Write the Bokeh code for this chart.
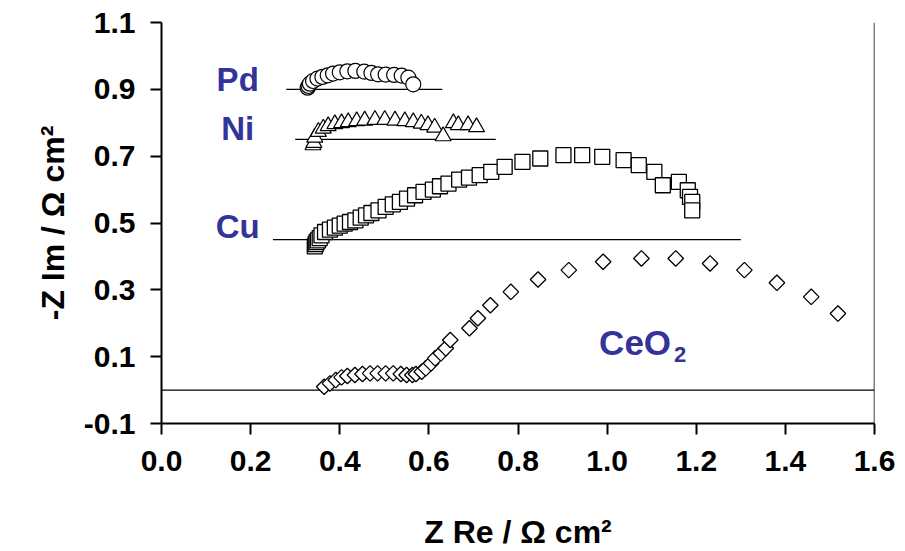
import numpy as np
from bokeh.plotting import figure
from bokeh.models import Range1d, FixedTicker, NumeralTickFormatter, Span
from bokeh.embed import file_html
from bokeh.resources import INLINE
from bokeh.core.properties import value

# ---------------- data ----------------
pd_re = [0.328, 0.330, 0.333, 0.340, 0.350, 0.361, 0.373, 0.385, 0.400, 0.417,
         0.435, 0.455, 0.471, 0.486, 0.503, 0.522, 0.539, 0.554, 0.565]
pd_im = [0.905, 0.910, 0.917, 0.925, 0.932, 0.937, 0.942, 0.947, 0.951, 0.954,
         0.955, 0.953, 0.949, 0.945, 0.944, 0.943, 0.941, 0.935, 0.915]

ni_re = [0.340, 0.342, 0.344, 0.352, 0.363, 0.374, 0.389, 0.404, 0.419, 0.438,
         0.456, 0.479, 0.501, 0.524, 0.546, 0.565, 0.583, 0.598, 0.613, 0.632,
         0.655, 0.666, 0.688, 0.707]
ni_im = [0.733, 0.740, 0.756, 0.773, 0.783, 0.790, 0.796, 0.799, 0.802, 0.805,
         0.807, 0.809, 0.809, 0.807, 0.805, 0.802, 0.798, 0.793, 0.786, 0.760,
         0.799, 0.793, 0.793, 0.787]

cu_re = [0.344, 0.346, 0.348, 0.351, 0.355, 0.359, 0.367, 0.378, 0.389, 0.400,
         0.411, 0.423, 0.435, 0.447, 0.459, 0.471, 0.487, 0.503, 0.519, 0.535,
         0.551, 0.569, 0.588, 0.609, 0.625, 0.644, 0.668, 0.690, 0.714, 0.740,
         0.770, 0.810, 0.850, 0.902, 0.944, 0.989, 1.037, 1.071, 1.106, 1.125,
         1.161, 1.181, 1.186, 1.191, 1.191]
cu_im = [0.430, 0.437, 0.443, 0.448, 0.455, 0.463, 0.473, 0.480, 0.486, 0.492,
         0.498, 0.503, 0.508, 0.516, 0.523, 0.530, 0.538, 0.548, 0.556, 0.563,
         0.573, 0.583, 0.593, 0.600, 0.610, 0.618, 0.630, 0.636, 0.643, 0.653,
         0.668, 0.683, 0.693, 0.703, 0.703, 0.698, 0.688, 0.673, 0.653, 0.613,
         0.623, 0.598, 0.578, 0.563, 0.538]

ceo2_re = [0.365, 0.378, 0.391, 0.404, 0.417, 0.434, 0.451, 0.468, 0.485, 0.503,
           0.520, 0.537, 0.550, 0.563, 0.571, 0.584, 0.593, 0.605, 0.614, 0.627,
           0.638, 0.648, 0.691, 0.710, 0.738, 0.784, 0.845, 0.914, 0.991, 1.077,
           1.154, 1.231, 1.308, 1.381, 1.458, 1.518]
ceo2_im = [0.010, 0.020, 0.030, 0.038, 0.042, 0.045, 0.048, 0.050, 0.050, 0.050,
           0.050, 0.048, 0.045, 0.045, 0.048, 0.055, 0.065, 0.080, 0.095, 0.110,
           0.125, 0.150, 0.185, 0.215, 0.254, 0.294, 0.331, 0.359, 0.384, 0.394,
           0.394, 0.379, 0.359, 0.321, 0.279, 0.229]

# baselines (offsets of the stacked spectra): [x_start, x_end], level
base_pd_x, base_pd_y = [0.28, 0.63], 0.90
base_ni_x, base_ni_y = [0.30, 0.75], 0.75
base_cu_x, base_cu_y = [0.25, 1.30], 0.45
base_ce_x, base_ce_y = [0.0, 1.6], 0.0

x_ticks = [0.0, 0.2, 0.4, 0.6, 0.8, 1.0, 1.2, 1.4, 1.6]
y_ticks = [-0.1, 0.1, 0.3, 0.5, 0.7, 0.9, 1.1]

series_names = ["Pd", "Ni", "Cu"]

# ---------------- figure ----------------
FONT = "Liberation Sans"
LBL = "#333399"

p = figure(frame_width=713, frame_height=401,
           min_border_left=161, min_border_right=25,
           min_border_top=22, min_border_bottom=120,
           x_range=Range1d(0, 1.6), y_range=Range1d(-0.1, 1.1),
           output_backend="svg", toolbar_location=None)
p.xgrid.visible = False
p.ygrid.visible = False
p.outline_line_color = None
p.background_fill_color = "white"
p.border_fill_color = "white"

for ax in (p.xaxis[0], p.yaxis[0]):
    ax.axis_line_width = 2
    ax.axis_line_color = "black"
    ax.major_tick_line_width = 2
    ax.major_tick_line_color = "black"
    ax.major_tick_in = 0
    ax.major_tick_out = 11
    ax.minor_tick_line_color = None
    ax.major_label_text_font = FONT
    ax.major_label_text_font_style = "bold"
    ax.major_label_text_font_size = "30px"
    ax.major_label_text_color = "black"
    ax.axis_label_text_font = FONT
    ax.axis_label_text_font_style = "bold"
    ax.axis_label_text_font_size = "32px"
    ax.axis_label_text_color = "black"
    ax.formatter = NumeralTickFormatter(format="0.0")

p.xaxis[0].ticker = FixedTicker(ticks=x_ticks)
p.yaxis[0].ticker = FixedTicker(ticks=y_ticks)
p.xaxis[0].axis_label = "Z Re / Ω cm²"
p.yaxis[0].axis_label = "-Z Im / Ω cm²"
p.xaxis[0].major_label_standoff = 16
p.yaxis[0].major_label_standoff = 15
p.xaxis[0].axis_label_standoff = 40
p.yaxis[0].axis_label_standoff = 10

# right border line
p.add_layout(Span(location=1.6, dimension="height", line_color="black", line_width=1.5))

# baselines
for bx, by in ((base_pd_x, base_pd_y), (base_ni_x, base_ni_y),
               (base_cu_x, base_cu_y), (base_ce_x, base_ce_y)):
    p.line(bx, [by, by], line_color="black", line_width=1.3)

# data
p.scatter(ceo2_re, ceo2_im, marker="square", angle=np.pi / 4, size=11,
          fill_color="white", line_color="black", line_width=1.3)
p.scatter(cu_re, cu_im, marker="square", size=15,
          fill_color="white", line_color="black", line_width=1.3)
p.scatter(ni_re, ni_im, marker="triangle", size=16,
          fill_color="white", line_color="black", line_width=1.2)
p.scatter(pd_re, pd_im, marker="circle", size=15,
          fill_color="white", line_color="black", line_width=1.2)

# series labels
p.text(x=[0.171, 0.171, 0.171], y=[0.93, 0.782, 0.49], text=series_names,
       text_font=value(FONT), text_font_style="bold", text_font_size="33px",
       text_color=LBL, text_align="center", text_baseline="alphabetic")
p.text(x=[0.982], y=[0.141], text=["CeO"],
       text_font=value(FONT), text_font_style="bold", text_font_size="35px",
       text_color=LBL, text_align="left", text_baseline="alphabetic")
p.text(x=[1.150], y=[0.107], text=["2"],
       text_font=value(FONT), text_font_style="bold", text_font_size="22px",
       text_color=LBL, text_align="left", text_baseline="alphabetic")

open("out.html", "w").write(file_html(p, INLINE))
